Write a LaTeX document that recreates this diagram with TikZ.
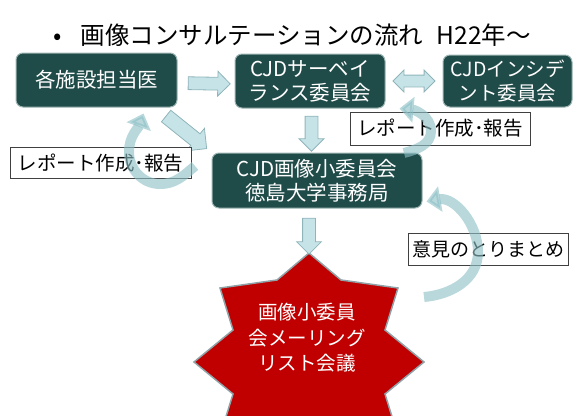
\documentclass[tikz,border=0pt]{standalone}
\usepackage{fontspec}
\setmainfont{Noto Sans CJK JP}
\usetikzlibrary{shapes.geometric,shapes.arrows,arrows.meta,calc}
\definecolor{boxfill}{HTML}{1F4B49}
\definecolor{boxedge}{HTML}{9DB5B2}
\definecolor{arrowfill}{HTML}{C6E4E8}
\definecolor{arrowedge}{HTML}{8FB4BA}
\definecolor{curvecol}{HTML}{8DC0C6}
\definecolor{starred}{HTML}{C00000}
\definecolor{staredge}{HTML}{8FA3A8}
\begin{document}
\begin{tikzpicture}[x=1pt,y=-1pt,
  box/.style={draw=boxedge, fill=boxfill, line width=1pt, rounded corners=7pt,
    text=white, align=center, inner sep=0pt, font=\fontsize{20.5}{24}\selectfont},
  lab/.style={draw=black!75, fill=white, line width=0.7pt, inner sep=0pt,
    font=\fontsize{19.5}{22}\selectfont},
  barrow/.style={single arrow, draw=arrowedge, fill=arrowfill, line width=0.8pt,
    inner xsep=0pt, inner ysep=6pt, minimum width=0pt, single arrow head extend=6pt,
    single arrow head indent=0pt},
  darrow/.style={double arrow, draw=arrowedge, fill=arrowfill, line width=0.8pt,
    inner xsep=0pt, inner ysep=5.5pt, minimum width=0pt, double arrow head extend=5pt,
    double arrow head indent=0pt},
  curvy/.style={draw=curvecol, line width=10pt, opacity=0.62,
    -{Triangle[width=25pt,length=14pt]}}
]
\useasboundingbox (0,0) rectangle (575,415);

% title
\node[font=\fontsize{24.5}{30}\selectfont] (title) at (292,35)
  {•\hspace{0.8em}画像コンサルテーションの流れ\hspace{0.55em}H22年～};

% boxes
\node[box, minimum width=161pt, minimum height=54pt] (b1) at (96.5,80) {各施設担当医};
\node[box, minimum width=150pt, minimum height=54pt] (b2) at (310,81) {CJDサーベイ\\ランス委員会};
\node[box, minimum width=129pt, minimum height=52pt, font=\fontsize{19.5}{24}\selectfont] (b3) at (507.5,81) {CJDインシデ\\ント委員会};
\node[box, minimum width=210pt, minimum height=55pt] (b4) at (317,180.5) {CJD画像小委員会\\徳島大学事務局};

% star
\coordinate (star) at (309,362);
\coordinate (startop) at (309,253);
\begin{scope}
\clip (0,0) rectangle (575,415);
\begin{scope}[shift={(star)}]
\draw[fill=starred, draw=staredge, line width=1.5pt, line join=miter]
  (0,-109) -- (32,-82) -- (89,-74) -- (76,-32) -- (115,0) -- (76,32) -- (89,74)
  -- (32,82) -- (0,109) -- (-32,82) -- (-89,74) -- (-76,32) -- (-115,0)
  -- (-76,-32) -- (-89,-74) -- (-32,-82) -- cycle;
\end{scope}
\end{scope}
\node[text=white, align=center, font=\fontsize{19.5}{25.5}\selectfont] (st) at (307,338)
  {画像小委員\\会メーリング\\リスト会議};

% block arrows
\path ([yshift=-3pt]b1.east) -- ([yshift=-3pt]b2.west)
  node[barrow, sloped, midway, minimum height=42pt] (a12) {};
\path (b2.east) -- (b3.west)
  node[darrow, sloped, midway, minimum height=42pt] (a23) {};
\path ([xshift=1.5pt]b2.south) -- ([xshift=1.5pt]b2.south |- b4.north)
  node[barrow, rotate=-90, midway, minimum height=35pt] (a24) {};
\path (b4.south -| startop) -- (startop)
  node[barrow, rotate=-90, pos=0.55, minimum height=36pt] (a4s) {};
\path ([xshift=-22pt]b1.south east) -- (b4.north west)
  node[barrow, sloped, midway, minimum height=52pt, inner ysep=7pt,
    single arrow head extend=7pt] (a14) {};

% labels
\node[lab, minimum width=181pt, minimum height=31pt] (l1) at (100.5,163) {レポート作成･報告};
\node[lab, minimum width=180pt, minimum height=33pt] (l2) at (440,128.5) {レポート作成･報告};
\node[lab, minimum width=160pt, minimum height=32pt, font=\fontsize{19}{22}\selectfont] (l3) at (488,249) {意見のとりまとめ};

% curved arrows
\coordinate (c1s) at (195,166);
\coordinate (c1b) at (160,184);
\coordinate (c1l) at (129,152);
\draw[curvy] (c1s) to[out=-140,in=0] (c1b) to[out=180,in=-90] (c1l)
  to[out=90,in=-110] ([shift={(47pt,-6pt)}]b1.south);

\coordinate (c2s) at (404,153);
\coordinate (c2r) at (431,131);
\draw[curvy] (c2s) to[out=15,in=-90] (c2r) to[out=90,in=-5]
  ([shift={(14pt,0pt)}]b2.south east);

\coordinate (c3s) at (424,297);
\coordinate (c3r) at (478,252);
\draw[curvy] (c3s) to[out=5,in=-90] (c3r) to[out=90,in=10]
  ([shift={(4pt,7pt)}]b4.south east);
\end{tikzpicture}
\end{document}
